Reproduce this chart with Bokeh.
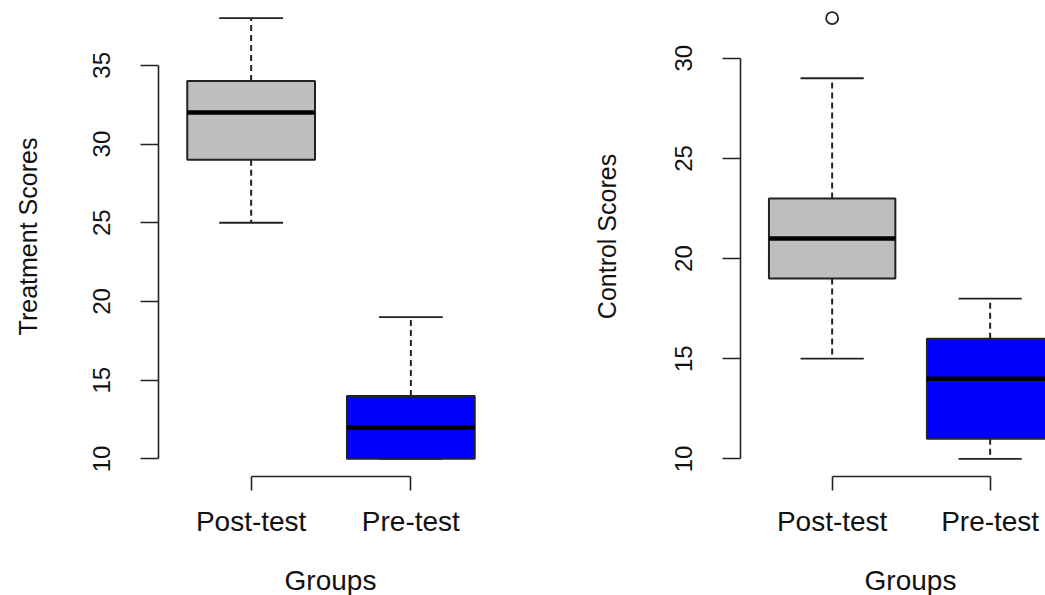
import math
from bokeh.plotting import figure
from bokeh.layouts import row
from bokeh.models import FixedTicker, Label
from bokeh.embed import file_html
from bokeh.resources import INLINE

# ---- data ----
groups = ["Post-test", "Pre-test"]
group_pos = [1, 2]
box_colors = ["#BEBEBE", "#0000FF"]

treat_low = [25, 10]
treat_q1 = [29, 10]
treat_med = [32, 12]
treat_q3 = [34, 14]
treat_high = [38, 19]
treat_out_x = []
treat_out_y = []
treat_ticks = [10, 15, 20, 25, 30, 35]

ctrl_low = [15, 10]
ctrl_q1 = [19, 11]
ctrl_med = [21, 14]
ctrl_q3 = [23, 16]
ctrl_high = [29, 18]
ctrl_out_x = [1]
ctrl_out_y = [32]
ctrl_ticks = [10, 15, 20, 25, 30]

FONT = "Liberation Sans"
BOXW = 0.8
CAPW = 0.4
INK = "#222222"
TXT = "#111111"
H = 595
PLOT_H = 476          # height of the R plotting region (px)


def make_panel(width, frame_left_px, px_per_x, ylabel, ylabel_x, xlabel_x,
               low, q1, med, q3, high, ox, oy, ticks):
    allv = low + high + oy
    lo, hi = min(allv), max(allv)
    pad = 0.04 * (hi - lo)
    px_per_y = PLOT_H / (hi - lo + 2 * pad)
    x0 = 0.5 - 0.04 * 2  # R extends x-range 0.5..2.5 by 4 %
    x_start = x0 - frame_left_px / px_per_x
    x_end = x0 + (width - frame_left_px) / px_per_x
    y_end = hi + pad
    y_base = lo - pad
    y_start = y_base - (H - PLOT_H) / px_per_y

    p = figure(width=width, height=H, output_backend="svg", toolbar_location=None,
               x_range=(x_start, x_end), y_range=(y_start, y_end),
               min_border_left=0, min_border_right=0,
               min_border_top=0, min_border_bottom=0)
    p.outline_line_color = None
    p.xgrid.visible = False
    p.ygrid.visible = False
    p.background_fill_color = "white"
    p.border_fill_color = "white"

    left = [x - BOXW / 2 for x in group_pos]
    right = [x + BOXW / 2 for x in group_pos]
    cl = [x - CAPW / 2 for x in group_pos]
    cr = [x + CAPW / 2 for x in group_pos]

    # whiskers
    p.segment(x0=group_pos, x1=group_pos, y0=q3, y1=high, line_color=INK,
              line_width=2, line_dash="6 4")
    p.segment(x0=group_pos, x1=group_pos, y0=q1, y1=low, line_color=INK,
              line_width=2, line_dash="6 4")
    p.segment(x0=cl, x1=cr, y0=high, y1=high, line_color=INK, line_width=1.8)
    p.segment(x0=cl, x1=cr, y0=low, y1=low, line_color=INK, line_width=1.8)
    # boxes
    p.quad(left=left, right=right, bottom=q1, top=q3, fill_color=box_colors,
           line_color=INK, line_width=2)
    p.segment(x0=left, x1=right, y0=med, y1=med, line_color="black", line_width=4.5)
    # outliers
    if ox:
        p.scatter(x=ox, y=oy, marker="circle", size=12, fill_color=None,
                  line_color=INK, line_width=1.8)

    ya = p.yaxis[0]
    ya.fixed_location = x0
    ya.ticker = FixedTicker(ticks=ticks)
    ya.bounds = (ticks[0], ticks[-1])
    ya.major_label_orientation = "vertical"
    ya.minor_tick_line_color = None
    ya.major_tick_out = 18
    ya.major_tick_in = 0
    ya.axis_line_width = 1.6
    ya.major_tick_line_width = 1.6
    ya.axis_line_color = INK
    ya.major_tick_line_color = INK
    ya.major_label_text_font = FONT
    ya.major_label_text_font_size = "24px"
    ya.major_label_text_color = TXT
    ya.major_label_standoff = 30

    xa = p.xaxis[0]
    xa.fixed_location = y_base
    xa.ticker = FixedTicker(ticks=group_pos)
    xa.major_label_overrides = dict(zip(group_pos, groups))
    xa.bounds = (group_pos[0], group_pos[-1])
    xa.minor_tick_line_color = None
    xa.major_tick_out = 14
    xa.major_tick_in = 0
    xa.axis_line_width = 1.6
    xa.major_tick_line_width = 1.6
    xa.axis_line_color = INK
    xa.major_tick_line_color = INK
    xa.major_label_text_font = FONT
    xa.major_label_text_font_size = "28px"
    xa.major_label_text_color = TXT
    xa.major_label_standoff = 15

    # axis titles (placed like R's mtext lines)
    p.add_layout(Label(x=ylabel_x, y=H - 236, x_units="screen", y_units="screen",
                       text=ylabel, angle=math.pi / 2, text_align="center",
                       text_baseline="middle", text_font=FONT,
                       text_font_size="25px", text_color=TXT))
    p.add_layout(Label(x=xlabel_x, y=H - 580, x_units="screen", y_units="screen",
                       text="Groups", text_align="center",
                       text_baseline="middle", text_font=FONT,
                       text_font_size="28px", text_color=TXT))
    return p


p1 = make_panel(560, 158, 345 / 2.16, "Treatment Scores", 27, 330,
                treat_low, treat_q1, treat_med, treat_q3, treat_high,
                treat_out_x, treat_out_y, treat_ticks)
p2 = make_panel(485, 180, 158.0, "Control Scores", 46, 350,
                ctrl_low, ctrl_q1, ctrl_med, ctrl_q3, ctrl_high,
                ctrl_out_x, ctrl_out_y, ctrl_ticks)

layout = row(p1, p2)
open("out.html", "w").write(file_html(layout, INLINE))
